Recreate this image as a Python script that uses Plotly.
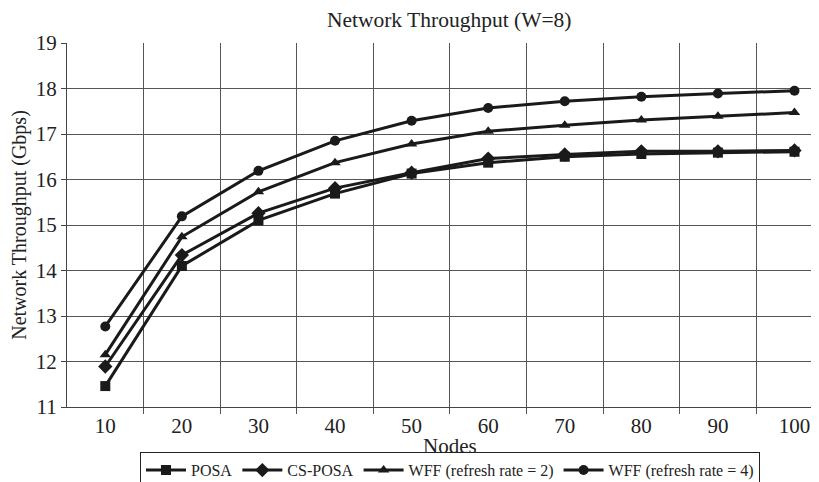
import plotly.graph_objects as go

nodes = [10, 20, 30, 40, 50, 60, 70, 80, 90, 100]
posa = [11.46, 14.10, 15.10, 15.69, 16.13, 16.37, 16.50, 16.56, 16.59, 16.61]
cs_posa = [11.89, 14.34, 15.26, 15.81, 16.15, 16.46, 16.55, 16.62, 16.62, 16.64]
wff2 = [12.15, 14.74, 15.73, 16.37, 16.78, 17.06, 17.19, 17.31, 17.39, 17.47]
wff4 = [12.77, 15.19, 16.19, 16.85, 17.29, 17.57, 17.72, 17.82, 17.89, 17.95]

series = [
    ("POSA", posa, "square"),
    ("CS-POSA", cs_posa, "diamond"),
    ("WFF (refresh rate = 2)", wff2, "triangle-up"),
    ("WFF (refresh rate = 4)", wff4, "circle"),
]

FONT = "Liberation Serif, Times New Roman, serif"

fig = go.Figure()
for name, vals, sym in series:
    fig.add_trace(go.Scatter(
        x=nodes, y=vals, name=name, mode="lines+markers",
        line=dict(color="#1a1a1a", width=3),
        marker=dict(symbol=sym, size=10 if sym != "diamond" else 11, color="#1a1a1a"),
    ))

# the page body has an 8px margin; the figure is sized to end at the window edge
fig.update_layout(
    width=811, height=474,
    paper_bgcolor="white", plot_bgcolor="white",
    margin=dict(l=59, r=0, t=35, b=75),
    font=dict(family=FONT, color="#222", size=18),
    title=dict(text="Network Throughput (W=8)", x=0.544, xanchor="center",
               y=0.975, yanchor="middle", yref="container",
               font=dict(family=FONT, size=21.5, color="#222")),
    showlegend=True,
    legend=dict(orientation="h", xref="container", yref="container",
                x=0.545, xanchor="center", y=0.063, yanchor="top",
                bordercolor="#222", borderwidth=1, bgcolor="white",
                font=dict(family=FONT, size=16, color="#222"),
                itemwidth=40, tracegroupgap=0),
    annotations=[dict(text="Nodes", xref="paper", yref="paper", x=0.509, y=0,
                      xanchor="center", yanchor="middle", yshift=-39, showarrow=False,
                      font=dict(family=FONT, size=21, color="#222"))],
)

fig.update_xaxes(
    range=[5, 103.2], tickmode="array", tickvals=nodes,
    ticktext=[str(n) for n in nodes], showgrid=False,
    showline=True, linecolor="#444", linewidth=1,
    ticks="", tickfont=dict(family=FONT, size=21, color="#222"),
    minor=dict(tickmode="array", tickvals=[15, 25, 35, 45, 55, 65, 75, 85, 95],
               showgrid=True, gridcolor="#555", gridwidth=1,
               ticks="outside", ticklen=6, tickcolor="#555"),
    zeroline=False, automargin=False,
)
fig.update_yaxes(
    range=[11, 19], dtick=1, tick0=11, showgrid=True, gridcolor="#555", gridwidth=1,
    showline=True, linecolor="#444", linewidth=1,
    ticks="outside", ticklen=5, tickcolor="#444",
    tickfont=dict(family=FONT, size=21, color="#222"),
    title=dict(text="Network Throughput (Gbps)", font=dict(family=FONT, size=20, color="#222"),
               standoff=8),
    zeroline=False, automargin=False,
)

fig.write_html("out.html")
